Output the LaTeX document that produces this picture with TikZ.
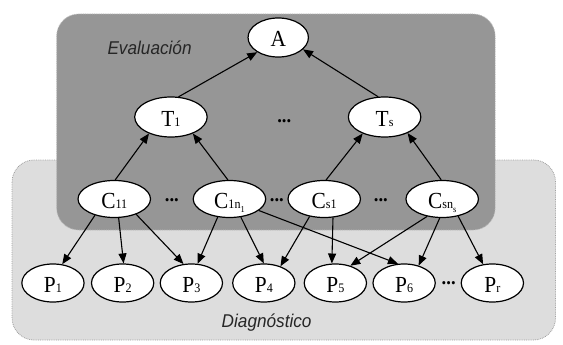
\documentclass[tikz,border=0pt]{standalone}
\usepackage{fontspec}
\setmainfont{Liberation Serif}
\newfontfamily\lsans{Liberation Sans}
\usetikzlibrary{shapes.geometric,arrows.meta}
\definecolor{darkbox}{RGB}{150,150,150}
\definecolor{lightbox}{RGB}{221,221,221}
\definecolor{bordA}{RGB}{160,160,160}
\definecolor{bordB}{RGB}{185,185,185}
\newcommand\sbb[1]{{\fontsize{13}{13}\selectfont #1}}
\newcommand\ssbb[1]{\raisebox{-4pt}{\fontsize{9}{9}\selectfont #1}}
\begin{document}
\begin{tikzpicture}[x=1pt,y=-1pt,
  nd/.style={ellipse,draw=black,fill=white,line width=1.2pt,inner sep=0pt,text height=19pt,text depth=0pt,font=\fontsize{23}{23}\selectfont},
  anode/.style={nd,minimum width=65pt,minimum height=39pt},
  tnode/.style={nd,minimum width=78pt,minimum height=40pt},
  cnode/.style={nd,minimum width=78pt,minimum height=37pt},
  pnode/.style={nd,minimum width=67pt,minimum height=38pt},
  dots/.style={inner sep=0pt,font=\fontsize{20}{20}\selectfont\bfseries},
  arr/.style={line width=1.1pt,-{Triangle[length=10pt,width=8pt]}},
  area/.style={rounded corners=22pt,densely dotted,line width=0.8pt},
  lbl/.style={inner sep=0pt,font=\lsans\itshape\fontsize{18.5}{18.5}\selectfont,text=black!85}
]
\useasboundingbox (0,0) rectangle (563,345);
\begin{scope}[xscale=0.929,transform shape]
% areas
\path[area,fill=lightbox,draw=bordA] (13,160) rectangle (598,340);
\path[area,fill=darkbox,draw=bordB] (61,14) rectangle (533,230);
\node[lbl] (eval) at (161,48) {Evaluación};
\node[lbl] (diag) at (287,323) {Diagnóstico};
% nodes
\node[anode] (A) at (299.5,37.5) {A};
\node[tnode] (T1) at (184,117) {T\sbb{1}};
\node[tnode] (Ts) at (414,117) {T\sbb{s}};
\node[dots] (dT) at (306,121) {...};
\node[cnode] (C11) at (123,199) {C\sbb{11}};
\node[cnode] (C1n) at (247,199) {C\sbb{1n}\ssbb{1}};
\node[cnode] (Cs1) at (349,199) {C\sbb{s1}};
\node[cnode] (Csn) at (476,199) {C\sbb{sn}\ssbb{s}};
\node[dots] (dC1) at (185,200) {...};
\node[dots] (dC2) at (298,200) {...};
\node[dots] (dC3) at (410,200) {...};
\node[pnode] (P1) at (57,283) {P\sbb{1}};
\node[pnode] (P2) at (132,283) {P\sbb{2}};
\node[pnode] (P3) at (206,283) {P\sbb{3}};
\node[pnode] (P4) at (284,283) {P\sbb{4}};
\node[pnode] (P5) at (361,283) {P\sbb{5}};
\node[pnode] (P6) at (435,283) {P\sbb{6}};
\node[dots] (dP) at (483,283) {...};
\node[pnode] (Pr) at (530,283) {P\sbb{r}};
% edges up
\draw[arr] (T1.68) -- (A.213);
\draw[arr] (Ts.109) -- (A.336);
\draw[arr] (C11.87) -- (T1.215);
\draw[arr] (C1n.95) -- (T1.325);
\draw[arr] (Cs1.84) -- (Ts.215);
\draw[arr] (Csn.93) -- (Ts.327);
% edges down
\draw[arr] (C11.218) -- (P1.62);
\draw[arr] (C11.284) -- (P2.87);
\draw[arr] (C11.327) -- (P3.114);
\draw[arr] (C1n.235) -- (P3.71);
\draw[arr] (C1n.304) -- (P4.90);
\draw[arr] (C1n.340) -- (P6.109);
\draw[arr] (Cs1.228) -- (P4.43);
\draw[arr] (Cs1.297) -- (P5.101);
\draw[arr] (Csn.227) -- (P5.47);
\draw[arr] (Csn.262) -- (P6.48);
\draw[arr] (Csn.315) -- (Pr.118);
\end{scope}
\end{tikzpicture}
\end{document}
